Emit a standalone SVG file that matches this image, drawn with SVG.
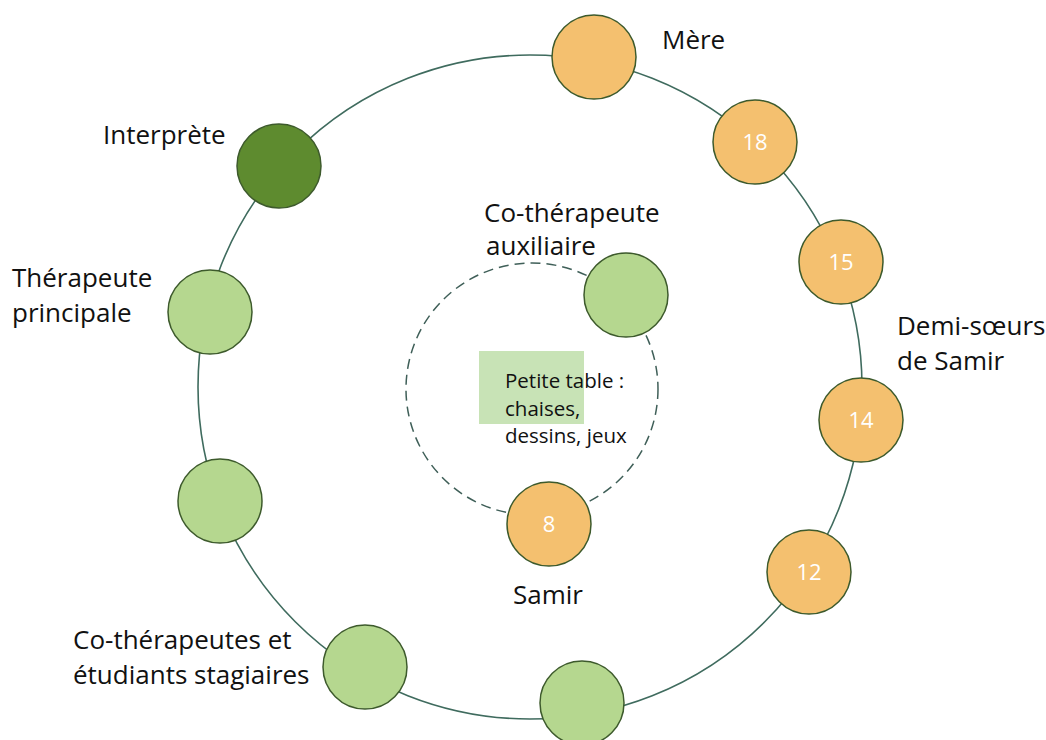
<svg xmlns="http://www.w3.org/2000/svg" width="1046" height="740" viewBox="0 0 1046 740">
<style>
.orange{fill:#f4c06f;stroke:#3d5a2c;stroke-width:1.5}
.lgreen{fill:#b5d78f;stroke:#3d5a2c;stroke-width:1.5}
.dgreen{fill:#5e8b2f;stroke:#3d5a2c;stroke-width:1.5}
.lbl{font-family:"Open Sans","Noto Sans",sans-serif;font-size:26px;fill:#111}
.num{font-family:"Open Sans","Noto Sans",sans-serif;font-size:22px;fill:#fff;text-anchor:middle}
.small{font-family:"Open Sans","Noto Sans",sans-serif;font-size:20.5px;fill:#111}
</style>
<rect width="1046" height="740" fill="#fff"/>
<g id="connectors" fill="none">
<circle cx="530" cy="387" r="332" stroke="#3f6b5e" stroke-width="1.6"/>
<circle cx="532" cy="389" r="126" stroke="#3f5f58" stroke-width="1.5" stroke-dasharray="10 6"/>
</g>
<g id="table">
<rect x="479" y="351" width="105" height="73" fill="#c8e3b6"/>
<text class="small" x="505" y="388">Petite table :</text>
<text class="small" x="505" y="416">chaises,</text>
<text class="small" x="505" y="443">dessins, jeux</text>
</g>
<g id="mere"><circle class="orange" cx="594" cy="57" r="42"/><text class="lbl" x="662" y="49">Mère</text></g>
<g id="soeur18"><circle class="orange" cx="755" cy="142" r="42"/><text class="num" x="755" y="150">18</text></g>
<g id="soeur15"><circle class="orange" cx="841" cy="262" r="42"/><text class="num" x="841" y="270">15</text></g>
<g id="soeur14"><circle class="orange" cx="861" cy="420" r="42"/><text class="num" x="861" y="428">14</text></g>
<g id="soeur12"><circle class="orange" cx="809" cy="572" r="42"/><text class="num" x="809" y="580">12</text></g>
<g id="demisoeurs-label"><text class="lbl" x="897" y="335">Demi-sœurs</text><text class="lbl" x="897" y="370">de Samir</text></g>
<g id="interprete"><circle class="dgreen" cx="279" cy="166" r="42"/><text class="lbl" x="103" y="144">Interprète</text></g>
<g id="therapeute"><circle class="lgreen" cx="210" cy="312" r="42"/><text class="lbl" x="12" y="287">Thérapeute</text><text class="lbl" x="12" y="322">principale</text></g>
<g id="cotherapeute-1"><circle class="lgreen" cx="220" cy="501" r="42"/></g>
<g id="cotherapeute-2"><circle class="lgreen" cx="365" cy="667" r="42"/><text class="lbl" x="73" y="649">Co-thérapeutes et</text><text class="lbl" x="73" y="684">étudiants stagiaires</text></g>
<g id="cotherapeute-3"><circle class="lgreen" cx="582" cy="703" r="42"/></g>
<g id="auxiliaire"><circle class="lgreen" cx="626" cy="295" r="42"/><text class="lbl" x="484" y="222">Co-thérapeute</text><text class="lbl" x="486" y="255">auxiliaire</text></g>
<g id="samir"><circle class="orange" cx="549" cy="524" r="42"/><text class="num" x="549" y="532">8</text><text class="lbl" x="513" y="604">Samir</text></g>
</svg>
